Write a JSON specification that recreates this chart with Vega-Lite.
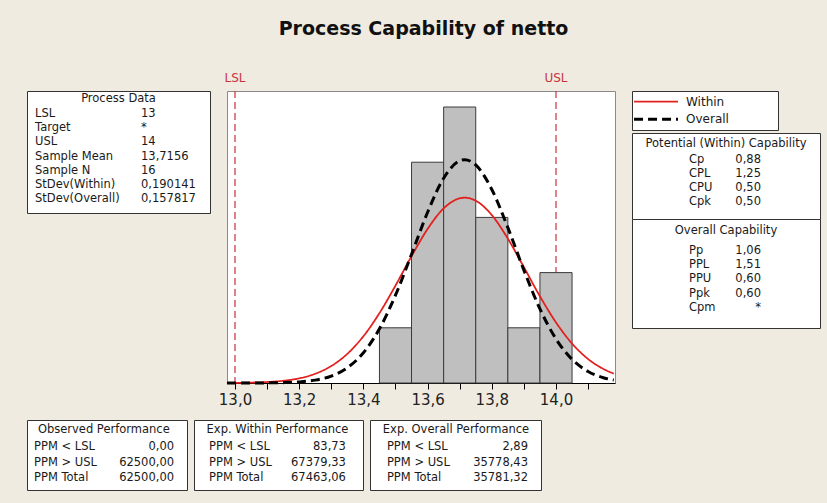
{
  "$schema": "https://vega.github.io/schema/vega-lite/v6.json",
  "background": "#EFEBE1",
  "padding": {"left": 26, "top": 19, "right": 8, "bottom": 14},
  "title": {"text": "Process Capability of netto", "font": "DejaVu Sans", "fontSize": 19, "fontWeight": "bold", "color": "#111111", "anchor": "middle", "offset": 33},
  "config": {
    "locale": {"number": {"decimal": ",", "thousands": ".", "grouping": [3], "currency": ["", " €"]}},
    "view": {"stroke": "#333333", "fill": "white"},
    "text": {"font": "DejaVu Sans", "fontSize": 11.5, "color": "#1a1a1a"}
  },
  "spacing": 11,
  "bounds": "full",
  "vconcat": [
    {
      "spacing": 17,
      "bounds": "flush",
      "hconcat": [
        {
          "width": 183, "height": 122,
          "view": {"fill": "white", "stroke": "#333333"},
          "data": {"values": [
            {"row": 1, "label": "LSL", "value": "13"},
            {"row": 2, "label": "Target", "value": "*"},
            {"row": 3, "label": "USL", "value": "14"},
            {"row": 4, "label": "Sample Mean", "value": "13,7156"},
            {"row": 5, "label": "Sample N", "value": "16"},
            {"row": 6, "label": "StDev(Within)", "value": "0,190141"},
            {"row": 7, "label": "StDev(Overall)", "value": "0,157817"}
          ]},
          "layer": [
            {
              "data": {"values": [{"title": "Process Data"}]},
              "mark": {"type": "text", "align": "center", "baseline": "middle"},
              "encoding": {
                "x": {"datum": 0.5, "type": "quantitative", "scale": {"domain": [0, 1], "nice": false, "zero": false}, "axis": null},
                "y": {"datum": -0.058, "type": "quantitative", "scale": {"domain": [-0.623, 7.987], "reverse": true, "nice": false, "zero": false}, "axis": null},
                "text": {"field": "title"}
              }
            },
            {
              "mark": {"type": "text", "align": "left", "baseline": "middle"},
              "encoding": {
                "x": {"datum": 0.044, "type": "quantitative", "scale": {"domain": [0, 1], "nice": false, "zero": false}, "axis": null},
                "y": {"field": "row", "type": "quantitative", "scale": {"domain": [-0.623, 7.987], "reverse": true, "nice": false, "zero": false}, "axis": null},
                "text": {"field": "label"}
              }
            },
            {
              "mark": {"type": "text", "align": "left", "baseline": "middle"},
              "encoding": {
                "x": {"datum": 0.623, "type": "quantitative", "scale": {"domain": [0, 1], "nice": false, "zero": false}, "axis": null},
                "y": {"field": "row", "type": "quantitative", "scale": {"domain": [-0.623, 7.987], "reverse": true, "nice": false, "zero": false}, "axis": null},
                "text": {"field": "value"}
              }
            }
          ]
        },
        {
          "width": 388, "height": 292,
          "view": {"fill": "white", "stroke": "#8a8a8a"},
          "layer": [
            {
              "data": {"values": [{"limit": "LSL", "value": 13.0}, {"limit": "USL", "value": 14.0}]},
              "mark": {"type": "rule", "color": "#C8323C", "strokeDash": [7, 4], "strokeWidth": 1.2},
              "encoding": {
                "x": {"field": "value", "type": "quantitative",
                  "scale": {"domain": [12.9751, 14.1838], "nice": false, "zero": false},
                  "axis": {"title": null, "values": [13, 13.1, 13.2, 13.3, 13.4, 13.5, 13.6, 13.7, 13.8, 13.9, 14, 14.1], "format": ".1f", "labelExpr": "round(datum.value*10) % 2 == 0 ? datum.label : ''", "grid": false, "domainColor": "#000000", "tickColor": "#000000", "tickSize": 6, "labelFontSize": 15, "labelFont": "DejaVu Sans", "labelColor": "#222222", "labelPadding": 3, "labelFlush": false, "labelOverlap": false}}
              }
            },
            {
              "data": {"values": [
                {"bin_start": 13.45, "bin_end": 13.55, "count": 1},
                {"bin_start": 13.55, "bin_end": 13.65, "count": 4},
                {"bin_start": 13.65, "bin_end": 13.75, "count": 5},
                {"bin_start": 13.75, "bin_end": 13.85, "count": 3},
                {"bin_start": 13.85, "bin_end": 13.95, "count": 1},
                {"bin_start": 13.95, "bin_end": 14.05, "count": 2}
              ]},
              "mark": {"type": "rect", "fill": "#BFBFBF", "stroke": "#3a3a3a", "strokeWidth": 1},
              "encoding": {
                "x": {"field": "bin_start", "type": "quantitative",
                  "scale": {"domain": [12.9751, 14.1838], "nice": false, "zero": false},
                  "axis": {"title": null, "values": [13, 13.1, 13.2, 13.3, 13.4, 13.5, 13.6, 13.7, 13.8, 13.9, 14, 14.1], "format": ".1f", "labelExpr": "round(datum.value*10) % 2 == 0 ? datum.label : ''", "grid": false, "domainColor": "#000000", "tickColor": "#000000", "tickSize": 6, "labelFontSize": 15, "labelFont": "DejaVu Sans", "labelColor": "#222222", "labelPadding": 3, "labelFlush": false, "labelOverlap": false}},
                "x2": {"field": "bin_end"},
                "y": {"field": "count", "type": "quantitative", "scale": {"domain": [0, 5.29], "nice": false, "zero": false}, "axis": null},
                "y2": {"datum": 0}
              }
            },
            {
              "data": {"values": [
                {"x": 12.975, "series": "Within", "density": 0.0017},
                {"x": 13.0, "series": "Within", "density": 0.0028},
                {"x": 13.05, "series": "Within", "density": 0.0073},
                {"x": 13.1, "series": "Within", "density": 0.0178},
                {"x": 13.15, "series": "Within", "density": 0.0402},
                {"x": 13.2, "series": "Within", "density": 0.085},
                {"x": 13.25, "series": "Within", "density": 0.1675},
                {"x": 13.3, "series": "Within", "density": 0.308},
                {"x": 13.35, "series": "Within", "density": 0.5287},
                {"x": 13.4, "series": "Within", "density": 0.8467},
                {"x": 13.45, "series": "Within", "density": 1.2656},
                {"x": 13.5, "series": "Within", "density": 1.765},
                {"x": 13.55, "series": "Within", "density": 2.2976},
                {"x": 13.6, "series": "Within", "density": 2.7907},
                {"x": 13.65, "series": "Within", "density": 3.163},
                {"x": 13.7, "series": "Within", "density": 3.3457},
                {"x": 13.7156, "series": "Within", "density": 3.357},
                {"x": 13.75, "series": "Within", "density": 3.3025},
                {"x": 13.8, "series": "Within", "density": 3.0421},
                {"x": 13.85, "series": "Within", "density": 2.6151},
                {"x": 13.9, "series": "Within", "density": 2.0975},
                {"x": 13.95, "series": "Within", "density": 1.5701},
                {"x": 14.0, "series": "Within", "density": 1.0971},
                {"x": 14.05, "series": "Within", "density": 0.7151},
                {"x": 14.1, "series": "Within", "density": 0.4351},
                {"x": 14.15, "series": "Within", "density": 0.2469},
                {"x": 14.18, "series": "Within", "density": 0.1701},
                {"x": 12.975, "series": "Overall", "density": 0.0001},
                {"x": 13.0, "series": "Overall", "density": 0.0001},
                {"x": 13.05, "series": "Overall", "density": 0.0006},
                {"x": 13.1, "series": "Overall", "density": 0.002},
                {"x": 13.15, "series": "Overall", "density": 0.0066},
                {"x": 13.2, "series": "Overall", "density": 0.0195},
                {"x": 13.25, "series": "Overall", "density": 0.0521},
                {"x": 13.3, "series": "Overall", "density": 0.1262},
                {"x": 13.35, "series": "Overall", "density": 0.2764},
                {"x": 13.4, "series": "Overall", "density": 0.5477},
                {"x": 13.45, "series": "Overall", "density": 0.9813},
                {"x": 13.5, "series": "Overall", "density": 1.5909},
                {"x": 13.55, "series": "Overall", "density": 2.3328},
                {"x": 13.6, "series": "Overall", "density": 3.0932},
                {"x": 13.65, "series": "Overall", "density": 3.71},
                {"x": 13.7, "series": "Overall", "density": 4.0253},
                {"x": 13.7156, "series": "Overall", "density": 4.045},
                {"x": 13.75, "series": "Overall", "density": 3.95},
                {"x": 13.8, "series": "Overall", "density": 3.5062},
                {"x": 13.85, "series": "Overall", "density": 2.8149},
                {"x": 13.9, "series": "Overall", "density": 2.0439},
                {"x": 13.95, "series": "Overall", "density": 1.3425},
                {"x": 14.0, "series": "Overall", "density": 0.7977},
                {"x": 14.05, "series": "Overall", "density": 0.4288},
                {"x": 14.1, "series": "Overall", "density": 0.2082},
                {"x": 14.15, "series": "Overall", "density": 0.0915},
                {"x": 14.18, "series": "Overall", "density": 0.0533}
              ]},
              "mark": {"type": "line", "interpolate": "monotone"},
              "encoding": {
                "x": {"field": "x", "type": "quantitative",
                  "scale": {"domain": [12.9751, 14.1838], "nice": false, "zero": false},
                  "axis": {"title": null, "values": [13, 13.1, 13.2, 13.3, 13.4, 13.5, 13.6, 13.7, 13.8, 13.9, 14, 14.1], "format": ".1f", "labelExpr": "round(datum.value*10) % 2 == 0 ? datum.label : ''", "grid": false, "domainColor": "#000000", "tickColor": "#000000", "tickSize": 6, "labelFontSize": 15, "labelFont": "DejaVu Sans", "labelColor": "#222222", "labelPadding": 3, "labelFlush": false, "labelOverlap": false}},
                "y": {"field": "density", "type": "quantitative", "scale": {"domain": [0, 5.29], "nice": false, "zero": false}, "axis": null},
                "color": {"field": "series", "type": "nominal", "scale": {"domain": ["Within", "Overall"], "range": ["#E3201E", "#000000"]}, "legend": null},
                "strokeDash": {"field": "series", "type": "nominal", "scale": {"domain": ["Within", "Overall"], "range": [[1, 0], [9, 5]]}, "legend": null},
                "strokeWidth": {"field": "series", "type": "nominal", "scale": {"domain": ["Within", "Overall"], "range": [1.8, 3]}, "legend": null}
              }
            },
            {
              "data": {"values": [{"limit": "LSL", "value": 13.0}, {"limit": "USL", "value": 14.0}]},
              "mark": {"type": "text", "baseline": "bottom", "dy": -6, "color": "#C8323C", "fontSize": 12, "font": "DejaVu Sans"},
              "encoding": {
                "x": {"field": "value", "type": "quantitative",
                  "scale": {"domain": [12.9751, 14.1838], "nice": false, "zero": false},
                  "axis": {"title": null, "values": [13, 13.1, 13.2, 13.3, 13.4, 13.5, 13.6, 13.7, 13.8, 13.9, 14, 14.1], "format": ".1f", "labelExpr": "round(datum.value*10) % 2 == 0 ? datum.label : ''", "grid": false, "domainColor": "#000000", "tickColor": "#000000", "tickSize": 6, "labelFontSize": 15, "labelFont": "DejaVu Sans", "labelColor": "#222222", "labelPadding": 3, "labelFlush": false, "labelOverlap": false}},
                "y": {"datum": 5.29, "type": "quantitative", "scale": {"domain": [0, 5.29], "nice": false, "zero": false}, "axis": null},
                "text": {"field": "limit"}
              }
            }
          ]
        },
        {
          "spacing": 3,
          "bounds": "flush",
          "vconcat": [
            {
              "width": 146, "height": 39,
              "view": {"fill": "white", "stroke": "#333333"},
              "data": {"values": [{"series": "Within"}, {"series": "Overall"}]},
              "layer": [
                {
                  "mark": {"type": "rule"},
                  "encoding": {
                    "x": {"datum": 0.014, "type": "quantitative", "scale": {"domain": [0, 1], "nice": false, "zero": false}, "axis": null},
                    "x2": {"datum": 0.315},
                    "y": {"field": "series", "type": "nominal", "scale": {"type": "point", "domain": ["Within", "Overall"], "padding": 0.6}, "axis": null},
                    "color": {"field": "series", "type": "nominal", "scale": {"domain": ["Within", "Overall"], "range": ["#E3201E", "#000000"]}, "legend": null},
                    "strokeDash": {"field": "series", "type": "nominal", "scale": {"domain": ["Within", "Overall"], "range": [[1, 0], [9, 5]]}, "legend": null},
                    "strokeWidth": {"field": "series", "type": "nominal", "scale": {"domain": ["Within", "Overall"], "range": [1.8, 3]}, "legend": null}
                  }
                },
                {
                  "mark": {"type": "text", "align": "left", "baseline": "middle", "fontSize": 12},
                  "encoding": {
                    "x": {"datum": 0.37, "type": "quantitative", "scale": {"domain": [0, 1], "nice": false, "zero": false}, "axis": null},
                    "y": {"field": "series", "type": "nominal", "scale": {"type": "point", "domain": ["Within", "Overall"], "padding": 0.6}, "axis": null},
                    "text": {"field": "series"}
                  }
                }
              ]
            },
            {
              "spacing": 0,
              "bounds": "flush",
              "vconcat": [
                {
                  "width": 188, "height": 86,
                  "view": {"fill": "white", "stroke": "#333333"},
                  "data": {"values": [
                    {"row": 1, "label": "Cp", "value": "0,88"},
                    {"row": 2, "label": "CPL", "value": "1,25"},
                    {"row": 3, "label": "CPU", "value": "0,50"},
                    {"row": 4, "label": "Cpk", "value": "0,50"}
                  ]},
                  "layer": [
                    {
                      "data": {"values": [{"title": "Potential (Within) Capability"}]},
                      "mark": {"type": "text", "align": "center", "baseline": "middle"},
                      "encoding": {
                        "x": {"datum": 0.5, "type": "quantitative", "scale": {"domain": [0, 1], "nice": false, "zero": false}, "axis": null},
                        "y": {"datum": -0.143, "type": "quantitative", "scale": {"domain": [-0.929, 5.214], "reverse": true, "nice": false, "zero": false}, "axis": null},
                        "text": {"field": "title"}
                      }
                    },
                    {
                      "mark": {"type": "text", "align": "left", "baseline": "middle"},
                      "encoding": {
                        "x": {"datum": 0.303, "type": "quantitative", "scale": {"domain": [0, 1], "nice": false, "zero": false}, "axis": null},
                        "y": {"field": "row", "type": "quantitative", "scale": {"domain": [-0.929, 5.214], "reverse": true, "nice": false, "zero": false}, "axis": null},
                        "text": {"field": "label"}
                      }
                    },
                    {
                      "mark": {"type": "text", "align": "right", "baseline": "middle"},
                      "encoding": {
                        "x": {"datum": 0.686, "type": "quantitative", "scale": {"domain": [0, 1], "nice": false, "zero": false}, "axis": null},
                        "y": {"field": "row", "type": "quantitative", "scale": {"domain": [-0.929, 5.214], "reverse": true, "nice": false, "zero": false}, "axis": null},
                        "text": {"field": "value"}
                      }
                    }
                  ]
                },
                {
                  "width": 188, "height": 109,
                  "view": {"fill": "white", "stroke": "#333333"},
                  "data": {"values": [
                    {"row": 1, "label": "Pp", "value": "1,06"},
                    {"row": 2, "label": "PPL", "value": "1,51"},
                    {"row": 3, "label": "PPU", "value": "0,60"},
                    {"row": 4, "label": "Ppk", "value": "0,60"},
                    {"row": 5, "label": "Cpm", "value": "*"}
                  ]},
                  "layer": [
                    {
                      "data": {"values": [{"title": "Overall Capability"}]},
                      "mark": {"type": "text", "align": "center", "baseline": "middle"},
                      "encoding": {
                        "x": {"datum": 0.5, "type": "quantitative", "scale": {"domain": [0, 1], "nice": false, "zero": false}, "axis": null},
                        "y": {"datum": -0.404, "type": "quantitative", "scale": {"domain": [-1.2456, 6.404], "reverse": true, "nice": false, "zero": false}, "axis": null},
                        "text": {"field": "title"}
                      }
                    },
                    {
                      "mark": {"type": "text", "align": "left", "baseline": "middle"},
                      "encoding": {
                        "x": {"datum": 0.303, "type": "quantitative", "scale": {"domain": [0, 1], "nice": false, "zero": false}, "axis": null},
                        "y": {"field": "row", "type": "quantitative", "scale": {"domain": [-1.2456, 6.404], "reverse": true, "nice": false, "zero": false}, "axis": null},
                        "text": {"field": "label"}
                      }
                    },
                    {
                      "mark": {"type": "text", "align": "right", "baseline": "middle"},
                      "encoding": {
                        "x": {"datum": 0.686, "type": "quantitative", "scale": {"domain": [0, 1], "nice": false, "zero": false}, "axis": null},
                        "y": {"field": "row", "type": "quantitative", "scale": {"domain": [-1.2456, 6.404], "reverse": true, "nice": false, "zero": false}, "axis": null},
                        "text": {"field": "value"}
                      }
                    }
                  ]
                }
              ]
            }
          ]
        }
      ]
    },
    {
      "spacing": 7,
      "bounds": "flush",
      "hconcat": [
        {
          "width": 160, "height": 70,
          "view": {"fill": "white", "stroke": "#333333"},
          "data": {"values": [
            {"row": 1, "label": "PPM < LSL", "value": "0,00"},
            {"row": 2, "label": "PPM > USL", "value": "62500,00"},
            {"row": 3, "label": "PPM Total", "value": "62500,00"}
          ]},
          "layer": [
            {
              "data": {"values": [{"title": "Observed Performance"}]},
              "mark": {"type": "text", "align": "center", "baseline": "middle"},
              "encoding": {
                "x": {"datum": 0.48, "type": "quantitative", "scale": {"domain": [0, 1], "nice": false, "zero": false}, "axis": null},
                "y": {"datum": -0.097, "type": "quantitative", "scale": {"domain": [-0.742, 3.774], "reverse": true, "nice": false, "zero": false}, "axis": null},
                "text": {"field": "title"}
              }
            },
            {
              "mark": {"type": "text", "align": "left", "baseline": "middle"},
              "encoding": {
                "x": {"datum": 0.044, "type": "quantitative", "scale": {"domain": [0, 1], "nice": false, "zero": false}, "axis": null},
                "y": {"field": "row", "type": "quantitative", "scale": {"domain": [-0.742, 3.774], "reverse": true, "nice": false, "zero": false}, "axis": null},
                "text": {"field": "label"}
              }
            },
            {
              "mark": {"type": "text", "align": "right", "baseline": "middle"},
              "encoding": {
                "x": {"datum": 0.919, "type": "quantitative", "scale": {"domain": [0, 1], "nice": false, "zero": false}, "axis": null},
                "y": {"field": "row", "type": "quantitative", "scale": {"domain": [-0.742, 3.774], "reverse": true, "nice": false, "zero": false}, "axis": null},
                "text": {"field": "value"}
              }
            }
          ]
        },
        {
          "width": 169, "height": 70,
          "view": {"fill": "white", "stroke": "#333333"},
          "data": {"values": [
            {"row": 1, "label": "PPM < LSL", "value": "83,73"},
            {"row": 2, "label": "PPM > USL", "value": "67379,33"},
            {"row": 3, "label": "PPM Total", "value": "67463,06"}
          ]},
          "layer": [
            {
              "data": {"values": [{"title": "Exp. Within Performance"}]},
              "mark": {"type": "text", "align": "center", "baseline": "middle"},
              "encoding": {
                "x": {"datum": 0.494, "type": "quantitative", "scale": {"domain": [0, 1], "nice": false, "zero": false}, "axis": null},
                "y": {"datum": -0.097, "type": "quantitative", "scale": {"domain": [-0.742, 3.774], "reverse": true, "nice": false, "zero": false}, "axis": null},
                "text": {"field": "title"}
              }
            },
            {
              "mark": {"type": "text", "align": "left", "baseline": "middle"},
              "encoding": {
                "x": {"datum": 0.089, "type": "quantitative", "scale": {"domain": [0, 1], "nice": false, "zero": false}, "axis": null},
                "y": {"field": "row", "type": "quantitative", "scale": {"domain": [-0.742, 3.774], "reverse": true, "nice": false, "zero": false}, "axis": null},
                "text": {"field": "label"}
              }
            },
            {
              "mark": {"type": "text", "align": "right", "baseline": "middle"},
              "encoding": {
                "x": {"datum": 0.899, "type": "quantitative", "scale": {"domain": [0, 1], "nice": false, "zero": false}, "axis": null},
                "y": {"field": "row", "type": "quantitative", "scale": {"domain": [-0.742, 3.774], "reverse": true, "nice": false, "zero": false}, "axis": null},
                "text": {"field": "value"}
              }
            }
          ]
        },
        {
          "width": 171, "height": 70,
          "view": {"fill": "white", "stroke": "#333333"},
          "data": {"values": [
            {"row": 1, "label": "PPM < LSL", "value": "2,89"},
            {"row": 2, "label": "PPM > USL", "value": "35778,43"},
            {"row": 3, "label": "PPM Total", "value": "35781,32"}
          ]},
          "layer": [
            {
              "data": {"values": [{"title": "Exp. Overall Performance"}]},
              "mark": {"type": "text", "align": "center", "baseline": "middle"},
              "encoding": {
                "x": {"datum": 0.503, "type": "quantitative", "scale": {"domain": [0, 1], "nice": false, "zero": false}, "axis": null},
                "y": {"datum": -0.097, "type": "quantitative", "scale": {"domain": [-0.742, 3.774], "reverse": true, "nice": false, "zero": false}, "axis": null},
                "text": {"field": "title"}
              }
            },
            {
              "mark": {"type": "text", "align": "left", "baseline": "middle"},
              "encoding": {
                "x": {"datum": 0.099, "type": "quantitative", "scale": {"domain": [0, 1], "nice": false, "zero": false}, "axis": null},
                "y": {"field": "row", "type": "quantitative", "scale": {"domain": [-0.742, 3.774], "reverse": true, "nice": false, "zero": false}, "axis": null},
                "text": {"field": "label"}
              }
            },
            {
              "mark": {"type": "text", "align": "right", "baseline": "middle"},
              "encoding": {
                "x": {"datum": 0.924, "type": "quantitative", "scale": {"domain": [0, 1], "nice": false, "zero": false}, "axis": null},
                "y": {"field": "row", "type": "quantitative", "scale": {"domain": [-0.742, 3.774], "reverse": true, "nice": false, "zero": false}, "axis": null},
                "text": {"field": "value"}
              }
            }
          ]
        }
      ]
    }
  ]
}
